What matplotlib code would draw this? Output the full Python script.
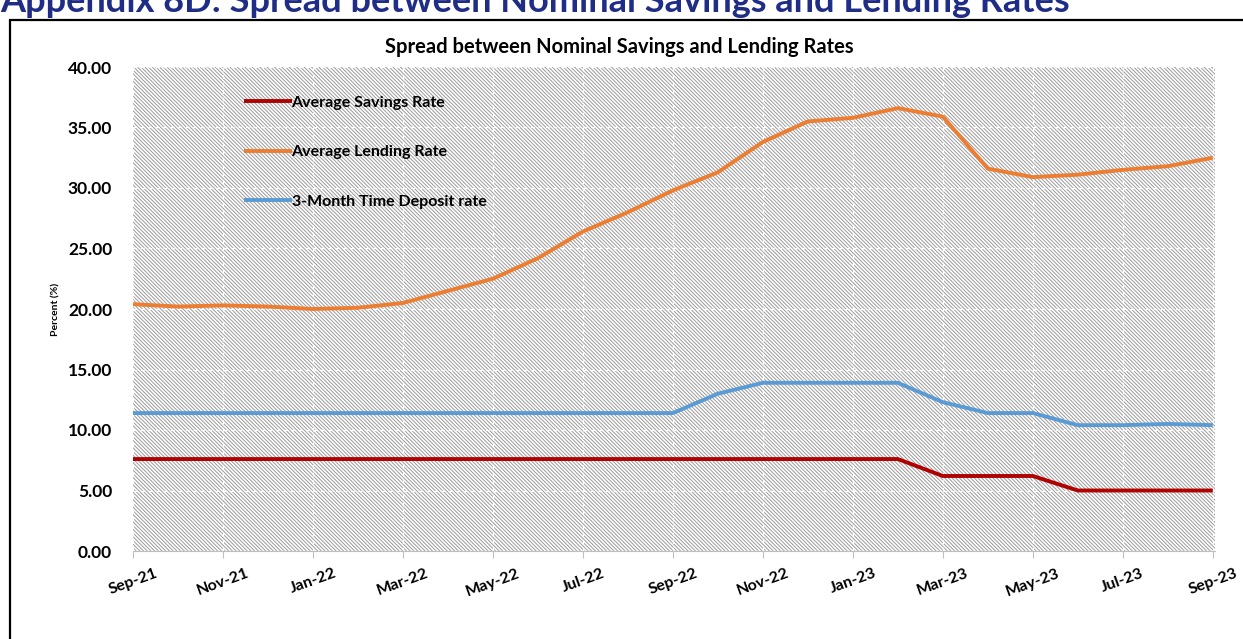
import matplotlib
matplotlib.use("Agg")
import matplotlib.pyplot as plt
from matplotlib.patches import Rectangle

plt.rcParams['font.family'] = ['Lato', 'DejaVu Sans']
plt.rcParams['hatch.linewidth'] = 0.7

months = ['Sep-21', 'Oct-21', 'Nov-21', 'Dec-21', 'Jan-22', 'Feb-22', 'Mar-22', 'Apr-22',
          'May-22', 'Jun-22', 'Jul-22', 'Aug-22', 'Sep-22', 'Oct-22', 'Nov-22', 'Dec-22',
          'Jan-23', 'Feb-23', 'Mar-23', 'Apr-23', 'May-23', 'Jun-23', 'Jul-23', 'Aug-23', 'Sep-23']
savings = [7.6, 7.6, 7.6, 7.6, 7.6, 7.6, 7.6, 7.6, 7.6, 7.6, 7.6, 7.6, 7.6, 7.6, 7.6, 7.6,
           7.6, 7.6, 6.2, 6.2, 6.2, 5.0, 5.0, 5.0, 5.0]
lending = [20.4, 20.2, 20.3, 20.2, 20.0, 20.1, 20.5, 21.5, 22.5, 24.2, 26.4, 28.0, 29.8,
           31.3, 33.8, 35.5, 35.8, 36.6, 35.9, 31.6, 30.9, 31.1, 31.5, 31.8, 32.5]
deposit = [11.4, 11.4, 11.4, 11.4, 11.4, 11.4, 11.4, 11.4, 11.4, 11.4, 11.4, 11.4, 11.4,
           13.0, 13.9, 13.9, 13.9, 13.9, 12.3, 11.4, 11.4, 10.4, 10.4, 10.5, 10.4]
series_names = ['Average Savings Rate', 'Average Lending Rate', '3-Month Time Deposit rate']
series_colors = ['#B00000', '#ED7D31', '#5B9BD5']
yticks = [0, 5, 10, 15, 20, 25, 30, 35, 40]

W, H = 1243, 639
fig = plt.figure(figsize=(W / 100, H / 100), dpi=100)

# outer frame
fig.patches.append(Rectangle((10 / W, -0.05), 1.2, 1 - 20 / H + 0.05, transform=fig.transFigure,
                             fill=False, edgecolor='black', linewidth=1.6))
# page heading (cut at top, as in the source page)
fig.text(0.0, 1 - 12 / H, 'Appendix 8D: Spread between Nominal Savings and Lending Rates',
         color='#1F2D86', fontsize=26, fontweight='bold', ha='left', va='baseline')

ax = fig.add_axes([133 / W, 1 - 551 / H, (1215 - 133) / W, (551 - 67) / H])
ax.set_facecolor('white')
bg = Rectangle((0, 0), 1, 1, transform=ax.transAxes, facecolor='white',
               edgecolor='#9a9a9a', linewidth=0, hatch='\\' * 9, zorder=0)
ax.add_patch(bg)

x = list(range(len(months)))
for vals, name, col in zip([savings, lending, deposit], series_names, series_colors):
    ax.plot(x, vals, color=col, linewidth=2.8, label=name, zorder=3, solid_capstyle='butt')

ax.set_xlim(0, len(months) - 1 + 0.05)
ax.set_ylim(0, 40)
ax.set_yticks(yticks)
ax.set_yticklabels([f'{v:.2f}' for v in yticks], fontsize=12.5, fontweight='bold')
ax.tick_params(axis='y', length=0, pad=15)
ax.set_xticks(x[::2])
ax.set_xticklabels(months[::2], rotation=20, fontsize=11.5, fontweight='bold', ha='center')
ax.tick_params(axis='x', length=5, color='#bfbfbf', pad=6)
for s in ['top', 'right', 'left']:
    ax.spines[s].set_visible(False)
ax.spines['bottom'].set_color('#bfbfbf')
ax.grid(True, axis='both', color='white', linewidth=0.9, linestyle=(0, (3, 3)), zorder=1)
ax.set_axisbelow(True)

ax.set_ylabel('Percent (%)', fontsize=7.5, fontweight='bold', labelpad=5)
fig.text(619 / W, 1 - 47 / H, 'Spread between Nominal Savings and Lending Rates',
         fontsize=14.5, fontweight='bold', ha='center', va='center')

leg = ax.legend(loc='upper left', bbox_to_anchor=(0.089, 0.97), frameon=False,
                handlelength=3.0, handletextpad=0.0, labelspacing=2.2,
                prop={'weight': 'bold', 'size': 11.5})

fig.savefig('out.png', dpi=100)
